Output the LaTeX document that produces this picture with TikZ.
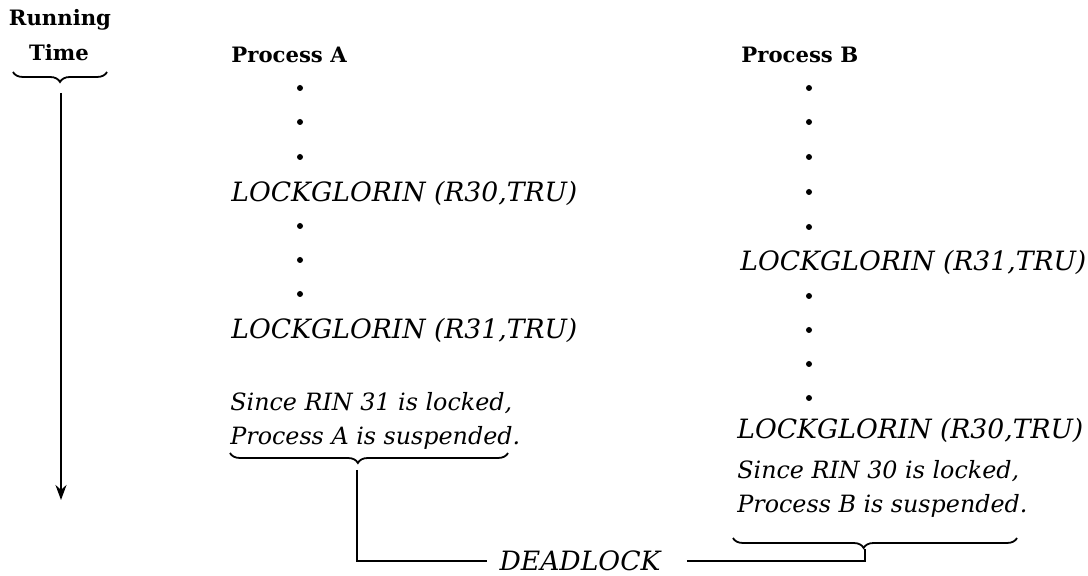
\documentclass[tikz,border=0pt]{standalone}
\usepackage{fontspec}
\setmainfont{DejaVu Serif}
\usetikzlibrary{positioning, arrows.meta, decorations.pathreplacing}

\begin{document}
\begin{tikzpicture}[
    x=0.5pt, y=-0.5pt,
    title/.style={font=\fontsize{10.6}{13}\selectfont\bfseries, inner sep=0pt},
    call/.style={font=\fontsize{13.3}{16}\selectfont\itshape, anchor=west, inner sep=0pt},
    note/.style={font=\fontsize{11.9}{17}\selectfont\itshape, anchor=base west, align=left, inner sep=0pt},
    dot/.style={circle, fill=black, inner sep=0pt, minimum size=3pt},
    arrow/.style={-{Stealth[length=7.5pt, width=5.5pt]}, line width=1pt},
    brace/.style={decorate, decoration={brace, mirror, amplitude=5pt, aspect=#1}, line width=0.9pt},
    brace/.default=0.5,
    link/.style={line width=0.9pt}
]
\useasboundingbox (0,0) rectangle (1088,576);

% time axis
\node[title] (running) at (60,20) {Running};
\node[title] (time) at (59,53) {Time};
\draw[brace] (13,72) -- (107,72);
\coordinate (timeTop) at (61,93);
\coordinate (timeEnd) at (61,500);
\draw[arrow] (timeTop) -- (timeEnd);

% process A
\node[title, anchor=west] (procA) at (231,55) {Process A};
\foreach \y in {88,122,157,226,260,294}
    \node[dot] (dotA-\y) at (300,\y) {};
\node[call] (lockA1) at (231,193) {LOCKGLORIN (R30,TRU)};
\node[call] (lockA2) at (231,330) {LOCKGLORIN (R31,TRU)};
\node[note] (noteA) at (230,445) {Since RIN 31 is locked,\\Process A is suspended.};
\draw[brace=0.46] (230,453) -- (508,453);
\coordinate (tipA) at (357,470);

% process B
\node[title, anchor=west] (procB) at (741,55) {Process B};
\foreach \y in {88,122,157,192,227,296,330,364,398}
    \node[dot] (dotB-\y) at (809,\y) {};
\node[call] (lockB1) at (740,262) {LOCKGLORIN (R31,TRU)};
\node[call] (lockB2) at (737,430) {LOCKGLORIN (R30,TRU)};
\node[note] (noteB) at (737,513) {Since RIN 30 is locked,\\Process B is suspended.};
\draw[brace=0.46] (733,538) -- (1017,538);
\coordinate (tipB) at (865,549);

% deadlock
\node[call, anchor=center] (dead) at (580,561) {DEADLOCK};
\draw[link] (tipA) |- ([xshift=-6pt]dead.west);
\draw[link] ([xshift=13pt]dead.east) -| (tipB);

\end{tikzpicture}
\end{document}
